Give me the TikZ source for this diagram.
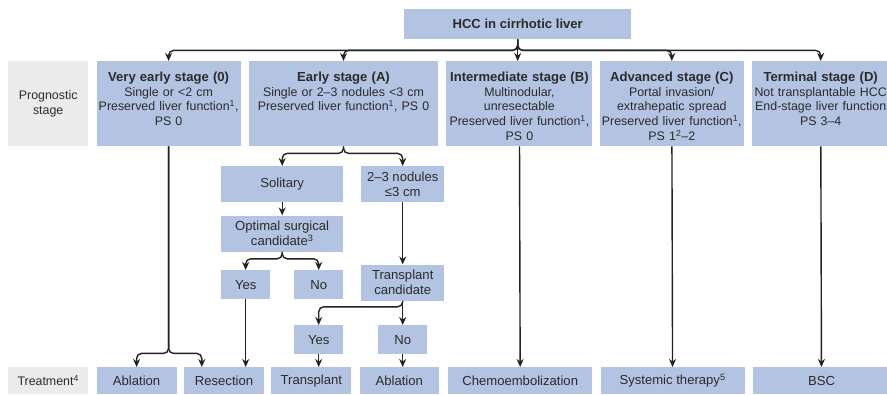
\documentclass[tikz,border=0pt]{standalone}
\usepackage{fontspec}
\setmainfont{Liberation Sans}
\usetikzlibrary{arrows.meta, positioning}
\definecolor{boxblue}{HTML}{B3C3E2}
\definecolor{sidegray}{HTML}{EBEBEB}
\definecolor{ink}{HTML}{2B2B2B}
\definecolor{wire}{HTML}{222222}
\newcommand{\figfont}{\fontsize{12.4}{14.8}\selectfont}
\newcommand{\pickfont}{\fontsize{13.1}{15}\selectfont}
\newcommand{\stagehead}[1]{{\fontsize{13.1}{14.8}\selectfont\bfseries #1}}
\tikzset{
  box/.style    = {rectangle, fill=boxblue, text=ink, align=center,
                   inner sep=2pt, font=\figfont},
  side/.style   = {box, fill=sidegray, minimum width=80pt},
  stage/.style  = {box, inner ysep=0pt, text height=20pt, text depth=65pt},
  pick/.style   = {box, minimum height=36pt, font=\pickfont},
  yn/.style     = {box, minimum width=49pt, minimum height=29pt, anchor=north west,
                   font=\pickfont},
  treat/.style  = {box, minimum height=27pt, inner xsep=0pt, font=\pickfont},
  fl/.style     = {-{Stealth[length=8pt, width=7pt]}, draw=wire, line width=1.4pt,
                   rounded corners=5pt},
}

\begin{document}
\begin{tikzpicture}[x=1pt, y=-1pt]
  \useasboundingbox (0,0) rectangle (887,394);

  \node[box, minimum width=227pt, minimum height=30pt, anchor=north west] (hcc) at (404,9)
       {\stagehead{HCC in cirrhotic liver}};

  \node[side, minimum height=85pt, anchor=north west] (prog) at (8,61) {Prognostic\\stage};
  \node[stage, text width=140pt, right=8pt of prog] (v0)
       {\stagehead{Very early stage (0)}\\Single or <2 cm\\Preserved liver function\textsuperscript{1},\\PS 0};
  \node[stage, text width=185pt, right=8pt of v0] (vA)
       {\stagehead{Early stage (A)}\\Single or 2–3 nodules <3 cm\\Preserved liver function\textsuperscript{1}, PS 0};
  \node[stage, text width=142pt, right=8pt of vA] (vB)
       {\stagehead{Intermediate stage (B)}\\Multinodular,\\unresectable\\Preserved liver function\textsuperscript{1},\\PS 0};
  \node[stage, text width=140pt, right=7pt of vB] (vC)
       {\stagehead{Advanced stage (C)}\\Portal invasion/\\extrahepatic spread\\Preserved liver function\textsuperscript{1},\\PS 1\textsuperscript{2}–2};
  \node[stage, text width=133pt, right=8pt of vC] (vD)
       {\stagehead{Terminal stage (D)}\\Not transplantable HCC\\End-stage liver function\\PS 3–4};

  \node[pick, minimum width=122pt, anchor=north west] (solit) at (221,166) {Solitary};
  \node[pick, minimum width=83pt, anchor=north west] (nod) at (361,166) {2–3 nodules\\≤3 cm};
  \node[pick, minimum width=122pt, below=13pt of solit] (optim) {Optimal surgical\\candidate\textsuperscript{3}};
  \node[pick, minimum width=83pt, below=62pt of nod] (tcand) {Transplant\\candidate};
  \node[yn] (yes1) at (221,270) {Yes};
  \node[yn] (no1) at (294,270) {No};
  \node[yn] (yes2) at (294,325) {Yes};
  \node[yn] (no2) at (378,325) {No};

  \node[side, minimum height=27pt, anchor=north west] (trt) at (8,367) {Treatment\textsuperscript{4}};
  \node[treat, minimum width=80pt, right=8pt of trt] (abl1) {Ablation};
  \node[treat, minimum width=80pt, right=7pt of abl1] (resect) {Resection};
  \node[treat, minimum width=80pt, right=7pt of resect] (transp) {Transplant};
  \node[treat, minimum width=79pt, right=8pt of transp] (abl2) {Ablation};
  \node[treat, minimum width=144pt, right=9pt of abl2] (chemo) {Chemoembolization};
  \node[treat, minimum width=144pt, right=8pt of chemo] (syst) {Systemic therapy\textsuperscript{5}};
  \node[treat, minimum width=137pt, right=8pt of syst] (bsc) {BSC};

  \draw[fl] (hcc.south) -- ++(0,11) -| (v0.north);
  \draw[fl] (hcc.south) -- ++(0,11) -| (vA.north);
  \draw[fl] (hcc.south) -- (hcc.south |- vB.north);
  \draw[fl] (hcc.south) -- ++(0,11) -| (vC.north);
  \draw[fl] (hcc.south) -- ++(0,11) -| (vD.north);

  \draw[fl] (vA.south) -- ++(0,7) -| (solit.north);
  \draw[fl] (vA.south) -- ++(0,7) -| (nod.north);
  \draw[fl] (solit) -- (optim);
  \draw[fl] (optim.south) -- ++(0,7) -| (yes1.north);
  \draw[fl] (optim.south) -- ++(0,7) -| (no1.north);
  \draw[fl] (nod) -- (tcand);
  \draw[fl] (tcand.south) -- ++(0,6) -| (yes2.north);
  \draw[fl] (tcand) -- (no2);

  \draw[fl] (v0.south) -- ++(0,207) -| (abl1.north);
  \draw[fl] (v0.south) -- ++(0,207) -| ([xshift=18pt]resect.north west);
  \draw[fl] (yes1.south) -- (yes1.south |- resect.north);
  \draw[fl] (yes2.south) -- (yes2.south |- transp.north);
  \draw[fl] (no2.south) -- (no2.south |- abl2.north);
  \draw[fl] (vB) -- (chemo);
  \draw[fl] (vC) -- (syst);
  \draw[fl] (vD) -- (bsc);
\end{tikzpicture}
\end{document}
